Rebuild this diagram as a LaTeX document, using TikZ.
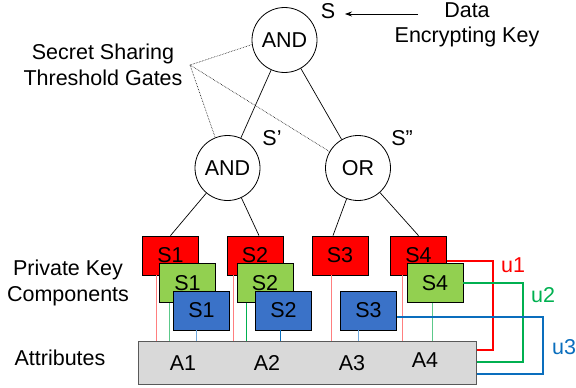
\documentclass[tikz,border=0pt]{standalone}
\usepackage{fontspec}
\setmainfont{Liberation Sans}
\usetikzlibrary{arrows.meta}
\definecolor{kred}{HTML}{FF0000}
\definecolor{kgreen}{HTML}{92D050}
\definecolor{kblue}{HTML}{3A72C8}
\definecolor{lred}{HTML}{FF7F7F}
\definecolor{lgreen}{HTML}{5CC98A}
\definecolor{lblue}{HTML}{6FA8DC}
\definecolor{ured}{HTML}{FF0000}
\definecolor{ugreen}{HTML}{00B050}
\definecolor{ublue}{HTML}{0A6EBD}
\definecolor{barfill}{HTML}{D9D9D9}
\definecolor{barline}{HTML}{595959}
\begin{document}
\begin{tikzpicture}[x=1pt,y=-1pt,
  every node/.style={font=\fontsize{21.5}{25.5}\selectfont},
  gate/.style={circle,draw=black,line width=0.8pt,fill=white,minimum size=65pt,inner sep=0pt},
  keybox/.style={draw=black,line width=0.8pt,minimum width=56pt,minimum height=39pt,inner sep=0pt},
  redbox/.style={keybox,fill=kred},
  greenbox/.style={keybox,fill=kgreen},
  bluebox/.style={keybox,fill=kblue},
  treeedge/.style={draw=black,line width=0.7pt},
  dotedge/.style={draw=black,line width=0.6pt,densely dotted},
  tie/.style={line width=0.9pt},
  ulink/.style={line width=2pt},
  lbl/.style={inner sep=0pt,align=center}]
\useasboundingbox (0,0) rectangle (576,388);

% gates
\node[gate] (root) at (284.5,40) {AND};
\node[gate] (andm) at (227.5,168) {AND};
\node[gate] (orm) at (358,168) {OR};

% labels near gates
\node[lbl] (slab) at (328,11) {S};
\node[lbl] (dek) at (467,25) {Data\\Encrypting Key};
\coordinate (arrs) at (418,14);
\coordinate (arre) at (345,14);
\draw[line width=0.7pt,-{Stealth[length=7pt,width=5pt]}] (arrs) -- (arre);
\node[lbl] (sp) at (272,138) {S'};
\node[lbl] (spp) at (402,138) {S''};

% secret sharing label and dotted pointers
\node[lbl] (ssg) at (103,65) {Secret Sharing\\Threshold Gates};
\coordinate (ssp) at (190,65);
\draw[dotedge] (ssp) -- (root.188);
\draw[dotedge] (ssp) -- (andm.112);
\draw[dotedge] (ssp) -- (orm.150);

% attribute bar
\node[draw=barline,fill=barfill,line width=1pt,minimum width=338pt,minimum height=43pt,inner sep=0pt] (bar) at (307,362.5) {};
\node[lbl] (a1) at (183,363) {A1};
\node[lbl] (a2) at (267,363) {A2};
\node[lbl] (a3) at (352,363) {A3};
\node[lbl] (a4) at (425,360) {A4};

% left labels
\node[lbl] (pkc) at (68,283) {Private Key\\Components};
\node[lbl] (attr) at (60,358) {Attributes};

% red key boxes
\node[redbox] (r1) at (170.5,255.5) {S1};
\node[redbox] (r2) at (255,255.5) {S2};
\node[redbox] (r3) at (340,255.5) {S3};
\node[redbox] (r4) at (418.5,255.5) {S4};

% thin ties (drawn before overlapping boxes)
\coordinate (t1r) at (156,341); \coordinate (t1g) at (169,341); \coordinate (t1b) at (196,341);
\coordinate (t2r) at (233,341); \coordinate (t2g) at (246,341); \coordinate (t2b) at (280,341);
\coordinate (t3r) at (331,341); \coordinate (t3b) at (358,341);
\coordinate (t4r) at (402,341); \coordinate (t4g) at (432,341);
\draw[tie,lred] (t1r |- r1.south) -- (t1r);
\draw[tie,lred] (t2r |- r2.south) -- (t2r);
\draw[tie,lred] (t3r |- r3.south) -- (t3r);
\draw[tie,lred] (t4r |- r4.south) -- (t4r);

% green key boxes
\node[greenbox] (g1) at (187.5,283) {S1};
\node[greenbox] (g2) at (265,283) {S2};
\node[greenbox] (g4) at (435,283) {S4};
\draw[tie,lgreen] (t1g |- g1.south) -- (t1g);
\draw[tie,ugreen] (t2g |- g2.south) -- (t2g);
\draw[tie,lgreen] (t4g |- g4.south) -- (t4g);

% blue key boxes
\node[bluebox] (b1) at (201.5,310.5) {S1};
\node[bluebox] (b2) at (283.5,310.5) {S2};
\node[bluebox] (b3) at (368.5,310.5) {S3};
\draw[tie,lblue] (t1b |- b1.south) -- (t1b);
\draw[tie,ublue] (t2b |- b2.south) -- (t2b);
\draw[tie,lblue] (t3b |- b3.south) -- (t3b);

% tree edges
\draw[treeedge] (root) -- (andm);
\draw[treeedge] (root) -- (orm);
\draw[treeedge] (andm) -- (r1.north);
\draw[treeedge] ([xshift=4pt]r2.north) -- (andm);
\draw[treeedge] (orm) -- ([xshift=-7pt]r3.north);
\draw[treeedge] (orm) -- (r4.north);

% user links
\coordinate (u1x) at (493,350);
\coordinate (u2x) at (523,362);
\coordinate (u3x) at (543,374);
\draw[ulink,ured] ([yshift=-5.5pt]r4.east) -| (u1x) -- (u1x -| bar.east);
\draw[ulink,ugreen] (g4.east) -| (u2x) -- (u2x -| bar.east);
\draw[ulink,ublue] ([yshift=-6.5pt]b3.east) -| (u3x) -- (u3x -| bar.east);
\node[lbl,text=ured] (u1) at (513,265) {u1};
\node[lbl,text=ugreen] (u2) at (543,295) {u2};
\node[lbl,text=ublue] (u3) at (564,347) {u3};
\end{tikzpicture}
\end{document}
